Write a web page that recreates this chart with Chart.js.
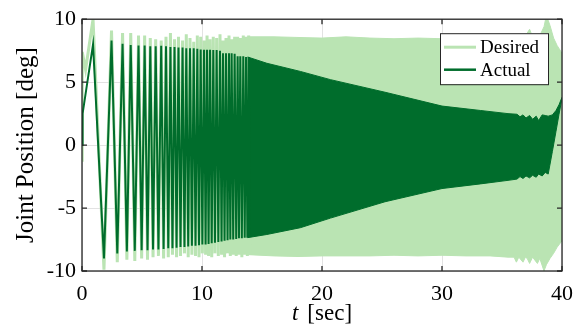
<!DOCTYPE html>
<html>
<head>
<meta charset="utf-8">
<script src="https://cdn.jsdelivr.net/npm/chart.js@4.4.0/dist/chart.umd.min.js"></script>
<style>
  html, body { margin: 0; padding: 0; background: #fff; }
</style>
</head>
<body>
<canvas id="myChart" width="584" height="332"></canvas>
<script>
// start of the run, before the first peak
const desiredStartT = [0, 0.02, 0.3];
const desiredStartV = [-1.2, 7.4, 6.0];
const actualStartT = [0, 0.05];
const actualStartV = [0, 2.5];

const peakT = [0.92, 2.46, 3.38, 4.06, 4.71, 5.22, 5.69, 6.14, 6.6, 7.0, 7.37, 7.71, 8.04, 8.38, 8.69, 9.0, 9.31, 9.61, 9.89, 10.17, 10.42, 10.67, 10.94, 11.22, 11.5, 11.75, 12.0, 12.25, 12.47, 12.72, 12.97, 13.19, 13.44, 13.67, 13.89];
const troughT = [1.83, 2.94, 3.74, 4.40, 4.97, 5.46, 5.92, 6.37, 6.8, 7.19, 7.54, 7.88, 8.21, 8.54, 8.85, 9.16, 9.46, 9.75, 10.03, 10.3, 10.55, 10.81, 11.08, 11.36, 11.63, 11.88, 12.13, 12.36, 12.6, 12.85, 13.08, 13.32, 13.56, 13.78, 14.0];
const desiredPeakV = [10.0, 9.1, 8.9, 8.9, 8.7, 8.7, 8.5, 8.4, 8.3, 8.6, 8.9, 8.4, 8.6, 8.3, 8.8, 8.5, 8.2, 8.7, 8.6, 8.3, 8.7, 8.4, 8.6, 8.5, 8.8, 8.3, 8.5, 8.7, 8.4, 8.6, 8.6, 8.5, 8.7, 8.6, 8.7];
const desiredTroughV = [-9.9, -9.3, -9.1, -9.2, -9.0, -9.1, -8.9, -8.8, -9.0, -8.9, -8.7, -8.9, -8.8, -8.6, -8.9, -8.7, -8.8, -8.9, -8.6, -8.7, -8.8, -8.9, -8.6, -8.8, -8.7, -8.9, -8.6, -8.8, -8.7, -8.8, -8.7, -8.9, -8.7, -8.8, -8.7];
const actualPeakV = [8.0, 8.3, 8.05, 7.95, 7.9, 7.9, 7.85, 7.85, 7.9, 7.85, 7.8, 7.8, 7.75, 7.75, 7.7, 7.7, 7.7, 7.65, 7.6, 7.57, 7.57, 7.57, 7.55, 7.55, 7.5, 7.3, 7.3, 7.3, 7.3, 7.25, 7.05, 7.05, 7.05, 7.0, 7.0];
const actualTroughV = [-9.0, -8.6, -8.45, -8.4, -8.35, -8.35, -8.3, -8.3, -8.25, -8.2, -8.2, -8.15, -8.1, -8.1, -8.05, -8.0, -8.0, -7.95, -7.9, -7.9, -7.85, -7.8, -7.75, -7.7, -7.65, -7.6, -7.55, -7.5, -7.5, -7.45, -7.4, -7.4, -7.35, -7.35, -7.3];

// dense part: the oscillation fills in, so only its envelope is read
const desiredBandT = [13.8, 16, 18, 20, 22, 24, 26, 28, 30, 32, 34, 35.5, 36.0, 36.2, 36.4, 36.75, 36.95, 37.1, 37.3, 37.55, 37.95, 38.15, 38.5, 38.7, 39.0, 39.3, 39.6, 40];
const desiredUpper = [8.6, 8.6, 8.55, 8.5, 8.6, 8.5, 8.45, 8.5, 8.45, 8.45, 8.4, 8.45, 8.5, 8.5, 8.55, 8.6, 8.7, 8.9, 9.2, 8.6, 8.5, 8.7, 9.4, 10.3, 9.5, 8.5, 7.9, 7.3];
const desiredLower = [-8.7, -8.8, -8.85, -8.8, -8.8, -8.8, -8.75, -8.8, -8.75, -8.8, -8.8, -8.9, -8.9, -9.3, -8.9, -9.3, -8.9, -9.0, -9.4, -8.9, -9.4, -9.0, -10.0, -9.5, -9.0, -8.6, -8.1, -7.6];
const actualBandT = [13.8, 15.4, 18.2, 20.7, 25.25, 30, 33.2, 35.5, 36.25, 36.5, 36.75, 37.0, 37.3, 37.55, 37.85, 38.05, 38.35, 38.6, 38.85, 39.2, 39.5, 39.75, 40];
const actualUpper = [7.0, 6.5, 5.85, 5.2, 4.2, 3.1, 2.75, 2.5, 2.45, 2.25, 2.4, 2.15, 2.35, 2.05, 2.3, 1.95, 2.4, 2.35, 2.3, 2.4, 2.75, 3.2, 3.8];
const actualLower = [-7.35, -7.1, -6.56, -5.8, -4.5, -3.45, -3.08, -2.8, -2.7, -2.5, -2.65, -2.45, -2.6, -2.4, -2.55, -2.3, -2.45, -2.17, -2.3, -0.5, 1.1, 2.45, 3.7];

const xTicks = [0, 10, 20, 30, 40];
const yTicks = [-10, -5, 0, 5, 10];

const LIGHT = '#bae4b3';
const DARK = '#006d2c';
const AXIS = '#262626';
const SERIF = "'Liberation Serif', 'Times New Roman', serif";

const toPoints = (ts, vs) => ts.map((t, i) => ({ x: t, y: vs[i] }));

const zigzag = (startT, startV, peakV, troughV) => {
	let pts = toPoints(startT, startV);
	peakT.forEach((t, i) => {
		pts.push({ x: t, y: peakV[i] });
		pts.push({ x: troughT[i], y: troughV[i] });
	});
	return pts;
};

const lineSet = (data, color, width, fill) => ({
	data: data,
	borderColor: color,
	backgroundColor: color,
	borderWidth: width,
	pointRadius: 0,
	tension: 0,
	fill: fill,
	clip: 0
});

// frame with inward ticks, like the original axes box
const framePlugin = {
	id: 'frame',
	afterDatasetsDraw(chart) {
		const ctx = chart.ctx;
		const a = chart.chartArea;
		const xs = chart.scales.x;
		const ys = chart.scales.y;
		const tl = 5;
		ctx.save();
		ctx.strokeStyle = AXIS;
		ctx.lineWidth = 1.3;
		ctx.strokeRect(a.left, a.top, a.right - a.left, a.bottom - a.top);
		ctx.beginPath();
		xTicks.forEach(v => {
			const px = xs.getPixelForValue(v);
			ctx.moveTo(px, a.bottom); ctx.lineTo(px, a.bottom - tl);
			ctx.moveTo(px, a.top); ctx.lineTo(px, a.top + tl);
		});
		yTicks.forEach(v => {
			const py = ys.getPixelForValue(v);
			ctx.moveTo(a.left, py); ctx.lineTo(a.left + tl, py);
			ctx.moveTo(a.right, py); ctx.lineTo(a.right - tl, py);
		});
		ctx.stroke();

		// legend box
		const bw = 108, bh = 51;
		const bx = a.right - 14 - bw, by = a.top + 14;
		ctx.fillStyle = '#fff';
		ctx.fillRect(bx, by, bw, bh);
		ctx.lineWidth = 1;
		ctx.strokeRect(bx + 0.5, by + 0.5, bw, bh);
		const rows = [['Desired', LIGHT, 3], ['Actual', DARK, 2.5]];
		rows.forEach((r, i) => {
			const y = by + 14 + i * 22.5;
			ctx.strokeStyle = r[1];
			ctx.lineWidth = r[2];
			ctx.beginPath();
			ctx.moveTo(bx + 4, y);
			ctx.lineTo(bx + 36, y);
			ctx.stroke();
			ctx.fillStyle = '#000';
			ctx.font = '19px ' + SERIF;
			ctx.textBaseline = 'middle';
			ctx.fillText(r[0], bx + 40, y + 1);
		});

		// x title with an italic t
		const cx = (a.left + a.right) / 2;
		const ty = 314;
		ctx.font = 'italic 23px ' + SERIF;
		const wt = ctx.measureText('t').width;
		ctx.font = '23px ' + SERIF;
		const ws = ctx.measureText('[sec]').width;
		const gap = 9;
		let x0 = cx - (wt + gap + ws) / 2;
		ctx.fillStyle = '#000';
		ctx.textBaseline = 'middle';
		ctx.font = 'italic 23px ' + SERIF;
		ctx.fillText('t', x0, ty);
		ctx.font = '23px ' + SERIF;
		ctx.fillText('[sec]', x0 + wt + gap, ty);
		ctx.restore();
	}
};

new Chart(document.getElementById('myChart').getContext('2d'), {
	type: 'line',
	data: {
		datasets: [
			lineSet(zigzag(actualStartT, actualStartV, actualPeakV, actualTroughV), DARK, 2, false),
			lineSet(toPoints(actualBandT, actualUpper), DARK, 1, '+1'),
			lineSet(toPoints(actualBandT, actualLower), DARK, 1, false),
			lineSet(zigzag(desiredStartT, desiredStartV, desiredPeakV, desiredTroughV), LIGHT, 3, false),
			lineSet(toPoints(desiredBandT, desiredUpper), LIGHT, 1, '+1'),
			lineSet(toPoints(desiredBandT, desiredLower), LIGHT, 1, false)
		]
	},
	options: {
		responsive: false,
		animation: false,
		devicePixelRatio: 1,
		layout: { padding: { top: 13, right: 22, left: 0, bottom: 0 } },
		plugins: { legend: { display: false }, tooltip: { enabled: false } },
		scales: {
			x: {
				type: 'linear',
				min: 0,
				max: 40,
				afterBuildTicks: s => { s.ticks = xTicks.map(v => ({ value: v })); },
				afterFit: s => { s.height = 61; },
				grid: { color: '#e2e2e2', drawTicks: false },
				border: { display: false },
				ticks: { color: '#000', padding: 10, maxRotation: 0, font: { family: SERIF, size: 22 } }
			},
			y: {
				min: -10,
				max: 10,
				afterBuildTicks: s => { s.ticks = yTicks.map(v => ({ value: v })); },
				afterFit: s => { s.width = 82; },
				grid: { color: '#e2e2e2', drawTicks: false },
				border: { display: false },
				ticks: { color: '#000', padding: 6, font: { family: SERIF, size: 22 } },
				title: {
					display: true,
					text: 'Joint Position [deg]',
					color: '#000',
					padding: { top: 11, bottom: 0 },
					font: { family: SERIF, size: 25 }
				}
			}
		}
	},
	plugins: [framePlugin]
});
</script>
</body>
</html>
